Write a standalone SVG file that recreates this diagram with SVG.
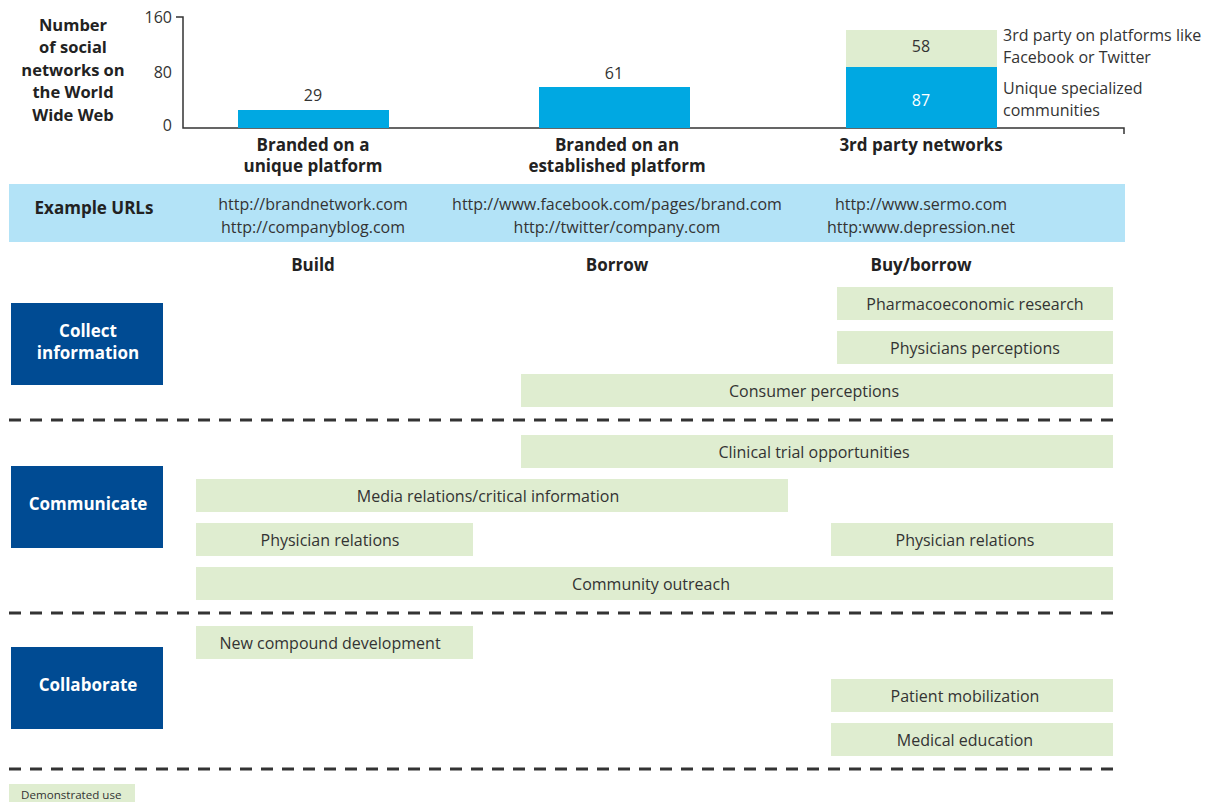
<svg xmlns="http://www.w3.org/2000/svg" width="1206" height="802" viewBox="0 0 1206 802">
<style>
text{font-family:"Open Sans","Noto Sans","Liberation Sans",sans-serif;fill:#333;font-size:16px}
.b{font-weight:bold;fill:#222;font-size:17px}
.t{font-weight:bold;fill:#222;font-size:16.5px}
.c{text-anchor:middle}
.w{fill:#fff;font-weight:bold;font-size:17px}
.small{font-size:11.6px}
.g{fill:#dfedd0}
.blue{fill:#00a8e2}
.nav{fill:#004b93}
.dash{stroke:#333;stroke-width:3;stroke-dasharray:12 9;fill:none}
.ax{stroke:#333;stroke-width:1.5;fill:none}
</style>
<rect width="1206" height="802" fill="#fff"/>
<g id="chart">
<text x="73" y="31" class="c t">Number</text>
<text x="73" y="53" class="c t">of social</text>
<text x="73" y="76" class="c t">networks on</text>
<text x="73" y="98" class="c t">the World</text>
<text x="73" y="121" class="c t">Wide Web</text>
<path class="ax" d="M176 17H183V128H1124V134"/>
<text x="172" y="23" text-anchor="end">160</text>
<text x="172" y="78" text-anchor="end">80</text>
<text x="172" y="131" text-anchor="end">0</text>
<rect class="blue" x="238" y="110" width="151" height="18"/>
<rect class="blue" x="539" y="87" width="151" height="41"/>
<rect class="blue" x="846" y="67" width="151" height="61"/>
<rect class="g" x="846" y="30" width="151" height="37"/>
<text x="313" y="101" class="c">29</text>
<text x="614" y="79" class="c">61</text>
<text x="921" y="52" class="c">58</text>
<text x="921" y="106" class="c" style="fill:#fff">87</text>
<text x="1003" y="41">3rd party on platforms like</text>
<text x="1003" y="63">Facebook or Twitter</text>
<text x="1003" y="94">Unique specialized</text>
<text x="1003" y="116">communities</text>
<text x="313" y="151" class="c b">Branded on a</text>
<text x="313" y="172" class="c b">unique platform</text>
<text x="617" y="151" class="c b">Branded on an</text>
<text x="617" y="172" class="c b">established platform</text>
<text x="921" y="151" class="c b">3rd party networks</text>
</g>
<g id="urls">
<rect x="9" y="184" width="1116" height="58" fill="#b3e3f7"/>
<text x="94" y="214" class="c b">Example URLs</text>
<text x="313" y="210" class="c">http://brandnetwork.com</text>
<text x="313" y="233" class="c">http://companyblog.com</text>
<text x="617" y="210" class="c">http://www.facebook.com/pages/brand.com</text>
<text x="617" y="233" class="c">http://twitter/company.com</text>
<text x="921" y="210" class="c">http://www.sermo.com</text>
<text x="921" y="233" class="c">http:www.depression.net</text>
</g>
<g id="headings">
<text x="313" y="271" class="c b">Build</text>
<text x="617" y="271" class="c b">Borrow</text>
<text x="921" y="271" class="c b">Buy/borrow</text>
</g>
<g id="collect">
<rect class="nav" x="11" y="303" width="152" height="82"/>
<text x="88" y="337" class="c w">Collect</text>
<text x="88" y="359" class="c w">information</text>
</g>
<g id="communicate">
<rect class="nav" x="11" y="466" width="152" height="82"/>
<text x="88" y="510" class="c w">Communicate</text>
</g>
<g id="collaborate">
<rect class="nav" x="11" y="647" width="152" height="82"/>
<text x="88" y="691" class="c w">Collaborate</text>
</g>
<g id="connectors">
<line class="dash" x1="9" y1="420" x2="1122" y2="420"/>
<line class="dash" x1="9" y1="613" x2="1122" y2="613"/>
<line class="dash" x1="9" y1="769" x2="1122" y2="769"/>
</g>
<g id="bar-pharma"><rect class="g" x="837" y="287" width="276" height="33"/><text x="975" y="310" class="c">Pharmacoeconomic research</text></g>
<g id="bar-physperc"><rect class="g" x="837" y="331" width="276" height="33"/><text x="975" y="354" class="c">Physicians perceptions</text></g>
<g id="bar-consumer"><rect class="g" x="521" y="374" width="592" height="33"/><text x="814" y="397" class="c">Consumer perceptions</text></g>
<g id="bar-clinical"><rect class="g" x="521" y="435" width="592" height="33"/><text x="814" y="458" class="c">Clinical trial opportunities</text></g>
<g id="bar-media"><rect class="g" x="196" y="479" width="592" height="33"/><text x="488" y="502" class="c">Media relations/critical information</text></g>
<g id="bar-physrel-l"><rect class="g" x="196" y="523" width="277" height="33"/><text x="330" y="546" class="c">Physician relations</text></g>
<g id="bar-physrel-r"><rect class="g" x="831" y="523" width="282" height="33"/><text x="965" y="546" class="c">Physician relations</text></g>
<g id="bar-community"><rect class="g" x="196" y="567" width="917" height="33"/><text x="651" y="590" class="c">Community outreach</text></g>
<g id="bar-compound"><rect class="g" x="196" y="626" width="277" height="33"/><text x="330" y="649" class="c">New compound development</text></g>
<g id="bar-patient"><rect class="g" x="831" y="679" width="282" height="33"/><text x="965" y="702" class="c">Patient mobilization</text></g>
<g id="bar-meded"><rect class="g" x="831" y="723" width="282" height="33"/><text x="965" y="746" class="c">Medical education</text></g>
<g id="legend"><rect class="g" x="9" y="784" width="126" height="18"/><text x="21" y="799" class="small">Demonstrated use</text></g>
</svg>
